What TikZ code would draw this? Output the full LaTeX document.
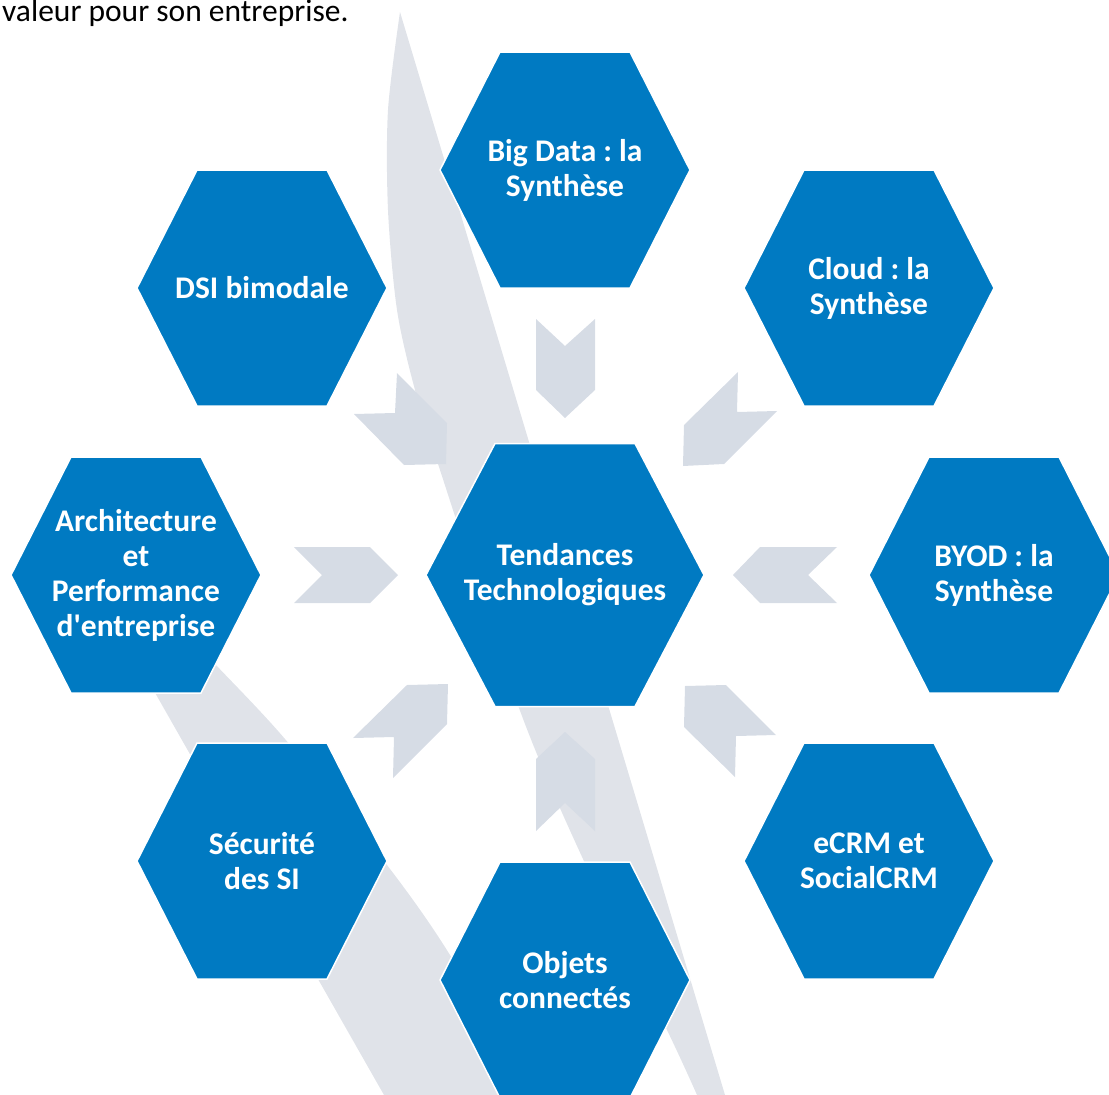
\documentclass[tikz,border=0pt]{standalone}
\usepackage{fontspec}
\setmainfont{Carlito}
\frenchspacing
\usetikzlibrary{calc,backgrounds}
\definecolor{hexblue}{RGB}{0,122,194}
\definecolor{swooshgray}{RGB}{224,227,233}
\definecolor{chevgray}{RGB}{214,220,229}

% hexagone aplati autour d'un noeud: noeud, demi-largeur, demi-hauteur, demi-arete
\newcommand{\hexcell}[4]{%
  \fill[hexblue, draw=white, line width=1.5pt]
    ($(#1.center)+(-#2,0)$) -- ($(#1.center)+(-#4,-#3)$) --
    ($(#1.center)+(#4,-#3)$) -- ($(#1.center)+(#2,0)$) --
    ($(#1.center)+(#4,#3)$) -- ($(#1.center)+(-#4,#3)$) -- cycle;}

\begin{document}
\begin{tikzpicture}[x=1pt, y=-1pt,
    hexlbl/.style={text=white, align=center, inner sep=0pt,
                   font=\fontsize{31.5}{35}\selectfont\bfseries},
    swoosh/.style={fill=swooshgray},
    chevron/.style={fill=chevgray}
  ]
  \useasboundingbox (0,0) rectangle (1109,1095);
  \clip (0,0) rectangle (1109,1095);

  % texte au-dessus
  \node[anchor=base west, inner sep=0pt, font=\fontsize{31.5}{35}\selectfont] (intro) at (2,21) {valeur pour son entreprise.};

  % centre
  \node[hexlbl] (tend) at (565,575) {Tendances\\Technologiques};

  % couronne
  \node[hexlbl] (bigdata) at (565,170) {Big Data : la\\Synthèse};
  \node[hexlbl] (cloud) at (869,288) {Cloud : la\\Synthèse};
  \node[hexlbl] (byod) at (994,575) {BYOD : la\\Synthèse};
  \node[hexlbl] (ecrm) at (869,861) {eCRM et\\SocialCRM};
  \node[hexlbl] (objets) at (565,980) {Objets\\connectés};
  \node[hexlbl] (secu) at (262,861) {Sécurité\\des SI};
  \node[hexlbl] (archi) at (136,575) {Architecture\\et\\Performance\\d\textquotesingle entreprise};
  \node[hexlbl] (dsi) at (262,288) {DSI bimodale};

  \begin{pgfonlayer}{background}
    % bandes grises
    \fill[swoosh] (400,12) -- (725,1095) -- plot[smooth] coordinates
      {(697,1095) (667,1030) (583,859) (519,708) (440,470) (415,390)
       (397,310) (388,210) (388,110) (400,12)} -- cycle;
    \fill[swoosh] (125,640) -- (384,1095) -- plot[smooth] coordinates
      {(530,1095) (450,955) (387,865) (285,739) (216,665) (193,640)} -- cycle;

    % fleches vers le centre
    \fill[chevron] (536,319) -- (565,346) -- (595,319) -- (595,390) -- (565,418) -- (536,390) -- cycle;
    \fill[chevron] (565,732) -- (595,759) -- (595,831) -- (565,803) -- (536,831) -- (536,759) -- cycle;
    \fill[chevron] (294,547) -- (370,547) -- (398,575) -- (370,603) -- (294,603) -- (322,575) -- cycle;
    \fill[chevron] (733,575) -- (760,547) -- (837,547) -- (808,575) -- (837,603) -- (760,603) -- cycle;
    \fill[chevron] (397,373) -- (447,423) -- (446,464) -- (404,465) -- (354,414) -- (395,413) -- cycle;
    \fill[chevron] (738,372) -- (737,412) -- (777,411) -- (724,464) -- (683,466) -- (684,425) -- cycle;
    \fill[chevron] (407,685) -- (448,684) -- (447,724) -- (393,778) -- (394,737) -- (353,738) -- cycle;
    \fill[chevron] (685,686) -- (726,685) -- (776,735) -- (736,736) -- (735,777) -- (684,727) -- cycle;

    % hexagones
    \hexcell{tend}{139}{131.5}{70}
    \hexcell{bigdata}{125}{118}{65}
    \hexcell{cloud}{125}{118}{65}
    \hexcell{byod}{125}{118}{65}
    \hexcell{ecrm}{125}{118}{65}
    \hexcell{objets}{125}{118}{65}
    \hexcell{secu}{125}{118}{65}
    \hexcell{archi}{125}{118}{65}
    \hexcell{dsi}{125}{118}{65}
  \end{pgfonlayer}
\end{tikzpicture}
\end{document}
